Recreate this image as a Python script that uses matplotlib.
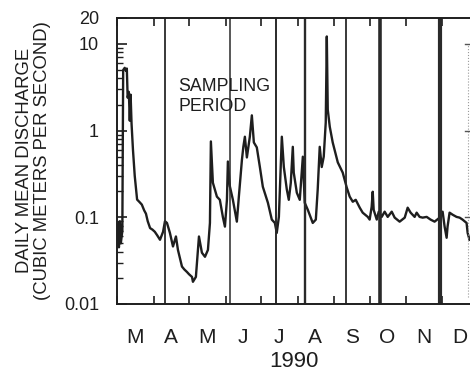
import matplotlib
matplotlib.use("Agg")
import matplotlib.pyplot as plt
import matplotlib.dates as mdates
import matplotlib.ticker as mticker
import matplotlib.transforms as mtransforms
from datetime import datetime
import numpy as np

plt.rcParams['font.family'] = ['Liberation Sans', 'DejaVu Sans']

# days after 1 March 1990, daily mean discharge (m3/s)
days = [0, 0.8, 1.6, 2.4, 3.2, 4.5, 5.2, 6.5, 7.5, 8.3, 9.0, 10.0, 10.8, 11.5, 12.3,
        13.5, 15, 17, 19, 21, 23, 24.5, 26, 28, 30, 32, 34, 36.4, 39, 40.6, 42.3,
        44.8, 47.4, 49.9, 51.6, 55, 57, 59.2, 61, 63.5, 64.3, 66.8, 69.4, 71.9,
        74.5, 77, 78.7, 79.5, 81.2, 84.6, 87.1, 89.7, 91.4, 93.1, 93.9, 95.6, 98.1,
        101.5, 103.2, 105.8, 107, 108.3, 110, 112.5, 114.2, 115.9, 118.4, 121,
        123.5, 127.8, 131.1, 133.7, 135.3, 137.1, 139.6, 141.3, 143.8, 145.5,
        147.2, 148.9, 149.7, 152.3, 154.8, 157.4, 159, 161.6, 165.8, 168.4, 170,
        171.7, 173.4, 175.1, 176.8, 177.7, 178.5, 180.2, 182.7, 187, 191.2, 194.6,
        197.1, 199.7, 202.2, 205.6, 208.1, 212.4, 214, 215.7, 216.6, 217.4, 220,
        221.7, 224.2, 226.7, 229.3, 232.7, 235.2, 239.4, 243.7, 246.2, 248.7,
        252.1, 253.8, 256.3, 258.9, 262.3, 265.6, 269, 273.3, 275.8, 277.5, 279.2,
        280, 281.7, 284.3, 287.6, 290.2, 292.7, 296.1, 297, 298.6]
discharge = [0.055, 0.085, 0.045, 0.09, 0.05, 0.07, 5.0, 5.3, 4.9, 5.2, 2.4, 2.8, 1.3,
             2.6, 1.2, 0.6, 0.3, 0.16, 0.15, 0.14, 0.12, 0.11, 0.09, 0.075, 0.072,
             0.068, 0.062, 0.055, 0.068, 0.09, 0.086, 0.066, 0.046, 0.06, 0.042,
             0.027, 0.025, 0.0234, 0.022, 0.0205, 0.018, 0.0205, 0.06, 0.039, 0.035,
             0.042, 0.086, 0.75, 0.25, 0.173, 0.159, 0.1, 0.078, 0.159, 0.44, 0.227,
             0.16, 0.089, 0.173, 0.46, 0.65, 0.85, 0.49, 0.85, 1.5, 0.73, 0.64, 0.38,
             0.225, 0.147, 0.094, 0.086, 0.066, 0.101, 0.85, 0.38, 0.21, 0.159, 0.25,
             0.65, 0.327, 0.192, 0.159, 0.5, 0.147, 0.122, 0.086, 0.094, 0.21, 0.65,
             0.38, 0.5, 1.24, 12.2, 1.75, 1.11, 0.73, 0.43, 0.327, 0.22, 0.173, 0.151,
             0.159, 0.129, 0.113, 0.101, 0.094, 0.132, 0.197, 0.122, 0.094, 0.116,
             0.101, 0.116, 0.101, 0.116, 0.099, 0.089, 0.099, 0.129, 0.113, 0.101,
             0.113, 0.101, 0.099, 0.101, 0.094, 0.089, 0.099, 0.116, 0.078, 0.058,
             0.078, 0.113, 0.107, 0.101, 0.099, 0.094, 0.086, 0.066, 0.055]

# sampling dates (vertical lines) and line weights
sample_dates = ['1990-04-11', '1990-06-05', '1990-07-14', '1990-08-07',
                '1990-09-11', '1990-10-10', '1990-11-30']
sample_widths = [1.3, 1.1, 1.4, 1.7, 1.3, 2.6, 3.0]

month_letters = ['M', 'A', 'M', 'J', 'J', 'A', 'S', 'O', 'N', 'D']
ytick_vals = [0.01, 0.1, 1, 10, 20]
ytick_labels = ['0.01', '0.1', '1', '10', '20']

ink = '#1e1e1e'
start = mdates.date2num(datetime(1990, 3, 1))
x = start + np.array(days)

fig = plt.figure(figsize=(4.70, 3.72), dpi=100)
ax = fig.add_axes([0.249, 0.183, 0.751, 0.769])

ax.plot(x, discharge, color=ink, lw=1.7, solid_joinstyle='round')
for d, w in zip(sample_dates, sample_widths):
    ax.axvline(mdates.datestr2num(d), color='#2a2a2a', lw=w)

ax.set_yscale('log')
ax.set_ylim(0.01, 20)
ax.set_xlim(start, start + 299)

# edge of the neighbouring panel, cut off at the right
edge = mtransforms.blended_transform_factory(ax.transAxes, ax.transData)
ax.plot([0.994, 0.994], [0.012, 10], transform=edge, ls=':', color='#9a9a9a',
        lw=0.8, clip_on=False)
for v in [10, 1, 0.1]:
    ax.plot([0.986, 0.996], [v, v], transform=edge, color='#555555', lw=1.0,
            clip_on=False)

ax.yaxis.set_major_locator(mticker.FixedLocator(ytick_vals))
ax.yaxis.set_major_formatter(mticker.FixedFormatter(ytick_labels))
ax.yaxis.set_minor_locator(mticker.LogLocator(base=10, subs=np.arange(2, 10), numticks=20))
ax.yaxis.set_minor_formatter(mticker.NullFormatter())
ax.tick_params(axis='y', which='major', direction='in', length=7, width=1.2,
               pad=13, labelsize=13, colors=ink)
ax.tick_params(axis='y', which='minor', direction='in', length=4, width=1.0, colors=ink)

ax.xaxis.set_major_locator(mdates.MonthLocator(bymonthday=1))
ax.xaxis.set_major_formatter(mticker.NullFormatter())
ax.xaxis.set_minor_locator(mdates.MonthLocator(bymonthday=16))
ax.xaxis.set_minor_formatter(mticker.FuncFormatter(
    lambda v, p: month_letters[mdates.num2date(v).month - 3]
    if 3 <= mdates.num2date(v).month <= 12 else ''))
ax.tick_params(axis='x', which='major', direction='in', length=6, width=1.2,
               top=True, bottom=True, colors=ink)
ax.tick_params(axis='x', which='minor', length=0, pad=17, labelsize=15, colors=ink)

ax.set_xlabel('1990', fontsize=16, color=ink, labelpad=3.5)
ax.set_ylabel('DAILY MEAN DISCHARGE\n(CUBIC METERS PER SECOND)', fontsize=13.3,
              color=ink, linespacing=1.1, labelpad=9)

ax.text(0.173, 0.79, 'SAMPLING\nPERIOD', transform=ax.transAxes, fontsize=12.8,
        color=ink, va='top', ha='left', linespacing=1.25)

for s in ['left', 'bottom', 'top']:
    ax.spines[s].set_linewidth(1.4)
    ax.spines[s].set_color(ink)
ax.spines['right'].set_visible(False)

fig.savefig('out.png', dpi=100)
